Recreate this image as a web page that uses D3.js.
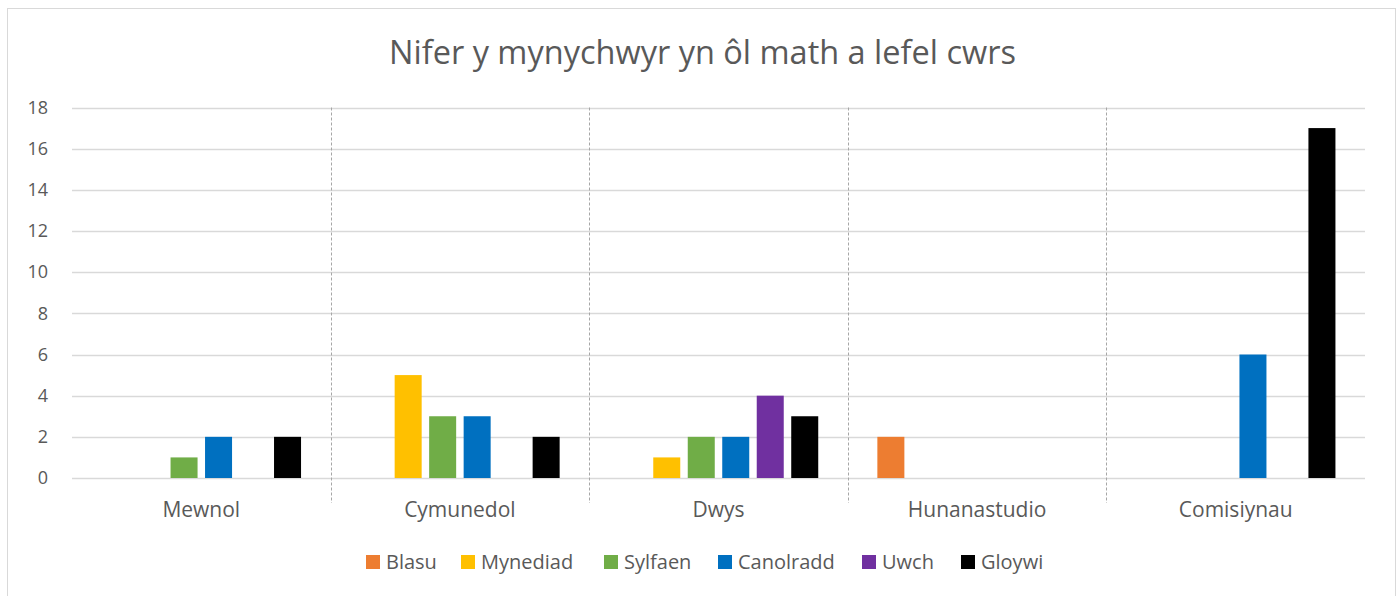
<!DOCTYPE html>
<html>
<head>
<meta charset="utf-8">
<script src="https://cdn.jsdelivr.net/npm/d3@7"></script>
<style>
  body { margin: 0; background: #fff; }
  text { font-family: "Open Sans", "Noto Sans", sans-serif; fill: #595959; }
</style>
</head>
<body>
<div id="chart"></div>
<script>
// data
const categories = ['Mewnol', 'Cymunedol', 'Dwys', 'Hunanastudio', 'Comisiynau'];
const seriesNames = ['Blasu', 'Mynediad', 'Sylfaen', 'Canolradd', 'Uwch', 'Gloywi'];
const seriesColors = ['#ed7d31', '#ffc000', '#70ad47', '#0070c0', '#7030a0', '#000000'];
const blasu     = [0, 0, 0, 2, 0];
const mynediad  = [0, 5, 1, 0, 0];
const sylfaen   = [1, 3, 2, 0, 0];
const canolradd = [2, 3, 2, 0, 6];
const uwch      = [0, 0, 4, 0, 0];
const gloywi    = [2, 2, 3, 0, 17];
const yTicks = [0, 2, 4, 6, 8, 10, 12, 14, 16, 18];

const allSeries = [blasu, mynediad, sylfaen, canolradd, uwch, gloywi];

const width = 1400, height = 596;
const margin = {top: 107.5, right: 35, bottom: 118, left: 72};

const svg = d3.select('#chart').append('svg')
    .attr('width', width)
    .attr('height', height);

// chart frame
svg.append('rect')
    .attr('x', 7.5).attr('y', 8.5)
    .attr('width', 1388).attr('height', 600)
    .attr('fill', '#fff')
    .attr('stroke', '#d9d9d9');

svg.append('text')
    .attr('x', 702.5).attr('y', 64)
    .attr('text-anchor', 'middle')
    .style('font-size', '32.5px')
    .text('Nifer y mynychwyr yn ôl math a lefel cwrs');

const x0 = d3.scaleBand()
    .domain(categories)
    .range([margin.left, width - margin.right]);

const x1 = d3.scaleBand()
    .domain(seriesNames)
    .range([0, x0.bandwidth()])
    .paddingInner(0.217)
    .paddingOuter(0.857);

const y = d3.scaleLinear()
    .domain([0, 18])
    .range([height - margin.bottom, margin.top]);

// horizontal grid
svg.append('g')
  .selectAll('line')
  .data(yTicks)
  .join('line')
    .attr('x1', margin.left).attr('x2', width - margin.right)
    .attr('y1', d => Math.round(y(d)) + 0.5).attr('y2', d => Math.round(y(d)) + 0.5)
    .attr('stroke', '#d9d9d9')
    .attr('stroke-width', 1.3);

// dashed separators between categories
svg.append('g')
  .selectAll('line')
  .data(categories.slice(1))
  .join('line')
    .attr('x1', d => Math.round(x0(d)) + 0.5).attr('x2', d => Math.round(x0(d)) + 0.5)
    .attr('y1', margin.top).attr('y2', height - margin.bottom + 25)
    .attr('stroke', '#a6a6a6')
    .attr('stroke-dasharray', '3,2');

// y axis labels
svg.append('g')
  .selectAll('text')
  .data(yTicks)
  .join('text')
    .attr('x', 48)
    .attr('y', d => y(d))
    .attr('dy', '0.35em')
    .attr('text-anchor', 'end')
    .style('font-size', '18px')
    .text(d => d);

// bars
const groups = svg.append('g')
  .selectAll('g')
  .data(categories)
  .join('g')
    .attr('transform', c => `translate(${x0(c)},0)`);

groups.selectAll('rect')
  .data((c, i) => seriesNames.map((s, j) => ({s: s, v: allSeries[j][i], color: seriesColors[j]})))
  .join('rect')
    .filter(d => d.v > 0)
    .attr('x', d => x1(d.s))
    .attr('width', x1.bandwidth())
    .attr('y', d => y(d.v))
    .attr('height', d => y(0) - y(d.v))
    .attr('fill', d => d.color);

// category labels
svg.append('g')
  .selectAll('text')
  .data(categories)
  .join('text')
    .attr('x', c => x0(c) + x0.bandwidth() / 2)
    .attr('y', 517)
    .attr('text-anchor', 'middle')
    .style('font-size', '21px')
    .text(c => c);

// legend
const legendX = [366, 461, 604, 718, 862, 961];
const legend = svg.append('g')
  .selectAll('g')
  .data(seriesNames)
  .join('g')
    .attr('transform', (d, i) => `translate(${legendX[i]},555)`);

legend.append('rect')
    .attr('width', 14).attr('height', 14)
    .attr('fill', (d, i) => seriesColors[i]);

legend.append('text')
    .attr('x', 20).attr('y', 14)
    .style('font-size', '20px')
    .text(d => d);
</script>
</body>
</html>
